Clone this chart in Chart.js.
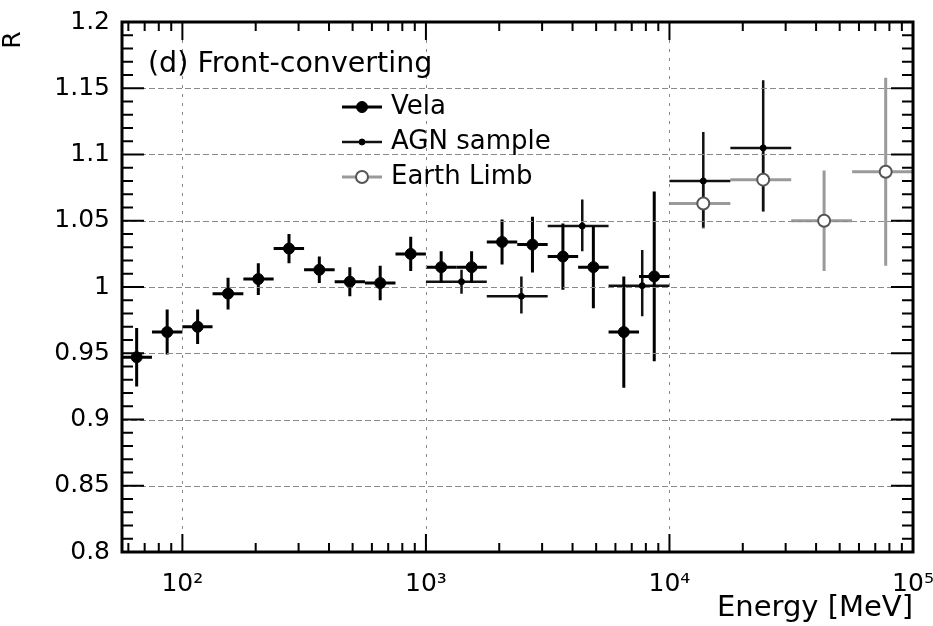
<!DOCTYPE html>
<html>
<head>
<meta charset="utf-8">
<script src="https://cdn.jsdelivr.net/npm/chart.js@4.4.1/dist/chart.umd.min.js"></script>
<style>
  html, body { margin: 0; padding: 0; background: #fff; }
</style>
</head>
<body>
<canvas id="grafico" width="933" height="626"></canvas>
<script>
// axis ranges and ticks
const xMin = 56.5, xMax = 100000;
const yMin = 0.8, yMax = 1.2;
const xTickValues = [100, 1000, 10000, 100000];
const xTickLabels = ['10²', '10³', '10⁴', '10⁵'];
const yTickValues = [0.8, 0.85, 0.9, 0.95, 1, 1.05, 1.1, 1.15, 1.2];
const yTickLabels = ['0.8', '0.85', '0.9', '0.95', '1', '1.05', '1.1', '1.15', '1.2'];

// Vela
const velaE   = [64.9, 86.6, 115.5, 154, 205, 274, 365, 487, 649, 866, 1155, 1540, 2054, 2738, 3652, 4870, 6494, 8660];
const velaELo = [56.2, 75, 100, 133, 178, 237, 316, 422, 562, 750, 1000, 1334, 1778, 2371, 3162, 4217, 5623, 7499];
const velaEHi = [75, 100, 133, 178, 237, 316, 422, 562, 750, 1000, 1334, 1778, 2371, 3162, 4217, 5623, 7499, 10000];
const velaR   = [0.947, 0.966, 0.970, 0.995, 1.006, 1.029, 1.013, 1.004, 1.003, 1.025, 1.015, 1.015, 1.034, 1.032, 1.023, 1.015, 0.966, 1.008];
const velaErr = [0.022, 0.017, 0.013, 0.012, 0.012, 0.011, 0.010, 0.011, 0.013, 0.013, 0.012, 0.012, 0.017, 0.021, 0.025, 0.031, 0.042, 0.064];

// AGN sample
const agnE     = [1400, 2466, 4385, 7730, 13770, 24260];
const agnELo   = [1000, 1778, 3162, 5623, 10000, 17783];
const agnEHi   = [1778, 3162, 5623, 10000, 17783, 31623];
const agnR     = [1.004, 0.993, 1.046, 1.001, 1.080, 1.105];
const agnErrLo = [0.009, 0.013, 0.019, 0.023, 0.035, 0.048];
const agnErrHi = [0.009, 0.015, 0.020, 0.027, 0.037, 0.051];

// Earth Limb
const limbE   = [13770, 24260, 43150, 77250];
const limbELo = [10000, 17783, 31623, 56234];
const limbEHi = [17783, 31623, 56234, 100000];
const limbR   = [1.063, 1.081, 1.050, 1.087];
const limbErr = [0.019, 0.024, 0.038, 0.071];

const FONT = "'DejaVu Sans', sans-serif";

function pts(xs, ys) {
  return xs.map((e, i) => ({ x: e, y: ys[i] }));
}

// error bars (x: bin width, y: uncertainty), drawn before the markers
const errorBars = {
  id: 'errorBars',
  beforeDatasetsDraw(chart) {
    const { ctx, chartArea: a, scales: { x, y } } = chart;
    ctx.save();
    ctx.beginPath();
    ctx.rect(a.left, a.top, a.right - a.left, a.bottom - a.top);
    ctx.clip();
    const list = chart.data.datasets.slice().reverse();
    list.forEach(ds => {
      ctx.strokeStyle = ds.barColor;
      ctx.lineWidth = ds.barWidth;
      ds.data.forEach((p, i) => {
        const px = x.getPixelForValue(p.x), py = y.getPixelForValue(p.y);
        ctx.beginPath();
        ctx.moveTo(x.getPixelForValue(ds.xLo[i]), py);
        ctx.lineTo(x.getPixelForValue(ds.xHi[i]), py);
        ctx.moveTo(px, y.getPixelForValue(p.y - ds.yLo[i]));
        ctx.lineTo(px, y.getPixelForValue(p.y + ds.yHi[i]));
        ctx.stroke();
      });
    });
    ctx.restore();
  }
};

// ROOT style frame: dashed grid, inward ticks on all four sides
const frame = {
  id: 'frame',
  beforeDatasetsDraw(chart) {
    const { ctx, chartArea: a, scales: { x, y } } = chart;
    ctx.save();
    ctx.strokeStyle = '#8a8a8a';
    ctx.lineWidth = 1;
    ctx.setLineDash([6, 3]);
    yTickValues.forEach(v => {
      if (v <= yMin || v >= yMax) return;
      const py = Math.round(y.getPixelForValue(v)) + 0.5;
      ctx.beginPath(); ctx.moveTo(a.left, py); ctx.lineTo(a.right, py); ctx.stroke();
    });
    ctx.setLineDash([3, 6]);
    xTickValues.forEach(v => {
      if (v <= xMin || v >= xMax) return;
      const px = Math.round(x.getPixelForValue(v)) + 0.5;
      ctx.beginPath(); ctx.moveTo(px, a.top); ctx.lineTo(px, a.bottom); ctx.stroke();
    });
    ctx.restore();
  },
  afterDatasetsDraw(chart) {
    const { ctx, chartArea: a, scales: { x, y } } = chart;
    ctx.save();
    ctx.strokeStyle = '#000';
    ctx.lineWidth = 2;
    ctx.beginPath();
    // y ticks every 0.01, majors every 0.05
    for (let k = 0; k <= 40; k++) {
      const py = y.getPixelForValue(yMin + k * 0.01);
      const len = k % 5 === 0 ? 22 : 11;
      ctx.moveTo(a.left, py); ctx.lineTo(a.left + len, py);
      ctx.moveTo(a.right, py); ctx.lineTo(a.right - len, py);
    }
    // x ticks: decades and 2..9 subdivisions
    for (let d = 10; d <= xMax; d *= 10) {
      for (let m = 1; m <= 9; m++) {
        const v = d * m;
        if (v < xMin || v > xMax) continue;
        const px = x.getPixelForValue(v);
        const len = m === 1 ? 18 : 9;
        ctx.moveTo(px, a.bottom); ctx.lineTo(px, a.bottom - len);
        ctx.moveTo(px, a.top); ctx.lineTo(px, a.top + len);
      }
    }
    ctx.stroke();
    ctx.lineWidth = 3;
    ctx.strokeRect(a.left, a.top, a.right - a.left, a.bottom - a.top);
    ctx.restore();
  },
  afterDraw(chart) {
    const { ctx } = chart;
    ctx.save();
    ctx.fillStyle = '#000';
    ctx.font = '28.5px ' + FONT;
    ctx.textBaseline = 'alphabetic';
    ctx.fillText('(d) Front-converting', 148, 72);

    // y axis title, ROOT style at the top end of the axis
    ctx.save();
    ctx.translate(13, 40);
    ctx.rotate(-Math.PI / 2);
    ctx.font = '25px ' + FONT;
    ctx.textAlign = 'center';
    ctx.textBaseline = 'middle';
    ctx.fillText('R', 0, 0);
    ctx.restore();

    // legend
    const rows = [107, 142, 177];
    ctx.font = '26px ' + FONT;
    ctx.textBaseline = 'middle';
    chart.data.datasets.forEach((ds, i) => {
      const ly = rows[i];
      ctx.strokeStyle = ds.barColor;
      ctx.lineWidth = ds.barWidth;
      ctx.beginPath(); ctx.moveTo(342, ly); ctx.lineTo(382, ly); ctx.stroke();
      ctx.beginPath();
      ctx.arc(362, ly, ds.pointRadius, 0, Math.PI * 2);
      ctx.fillStyle = ds.pointBackgroundColor;
      ctx.fill();
      ctx.lineWidth = ds.pointBorderWidth;
      ctx.strokeStyle = ds.pointBorderColor;
      ctx.stroke();
      ctx.fillStyle = '#000';
      ctx.fillText(ds.label, 391, ly);
    });
    ctx.restore();
  }
};

const ctx = document.getElementById('grafico');
new Chart(ctx, {
  type: 'scatter',
  data: {
    datasets: [{
      label: 'Vela',
      data: pts(velaE, velaR),
      xLo: velaELo, xHi: velaEHi, yLo: velaErr, yHi: velaErr,
      barColor: '#000', barWidth: 3,
      pointRadius: 5.5, pointBackgroundColor: '#000', pointBorderColor: '#000', pointBorderWidth: 1
    }, {
      label: 'AGN sample',
      data: pts(agnE, agnR),
      xLo: agnELo, xHi: agnEHi, yLo: agnErrLo, yHi: agnErrHi,
      barColor: '#111', barWidth: 2.5,
      pointRadius: 3, pointBackgroundColor: '#000', pointBorderColor: '#000', pointBorderWidth: 1
    }, {
      label: 'Earth Limb',
      data: pts(limbE, limbR),
      xLo: limbELo, xHi: limbEHi, yLo: limbErr, yHi: limbErr,
      barColor: '#9a9a9a', barWidth: 3,
      pointRadius: 6, pointBackgroundColor: '#fff', pointBorderColor: '#555', pointBorderWidth: 2
    }]
  },
  options: {
    responsive: false,
    animation: false,
    devicePixelRatio: 1,
    layout: { padding: { left: 0, right: 20, top: 22, bottom: 0 } },
    plugins: { legend: { display: false }, tooltip: { enabled: false } },
    elements: { point: { hoverRadius: 5 } },
    scales: {
      x: {
        type: 'logarithmic',
        min: xMin, max: xMax,
        grid: { display: false },
        border: { display: false },
        ticks: {
          color: '#000', font: { family: FONT, size: 25 }, padding: 9,
          autoSkip: false, maxRotation: 0,
          callback: v => { const i = xTickValues.indexOf(v); return i < 0 ? '' : xTickLabels[i]; }
        },
        afterBuildTicks: s => { s.ticks = xTickValues.map(v => ({ value: v })); },
        afterFit: s => { s.height = 74; s.paddingLeft = 0; s.paddingRight = 0; },
        title: { display: true, text: 'Energy [MeV]', align: 'end', color: '#000', font: { family: FONT, size: 29 }, padding: 0 }
      },
      y: {
        type: 'linear',
        min: yMin, max: yMax,
        grid: { display: false },
        border: { display: false },
        ticks: {
          color: '#000', font: { family: FONT, size: 25 }, padding: 4, autoSkip: false,
          callback: (v, i) => yTickLabels[i]
        },
        afterBuildTicks: s => { s.ticks = yTickValues.map(v => ({ value: v })); },
        afterFit: s => { s.width = 122; s.paddingTop = 0; s.paddingBottom = 0; }
      }
    }
  },
  plugins: [errorBars, frame]
});
</script>
</body>
</html>
